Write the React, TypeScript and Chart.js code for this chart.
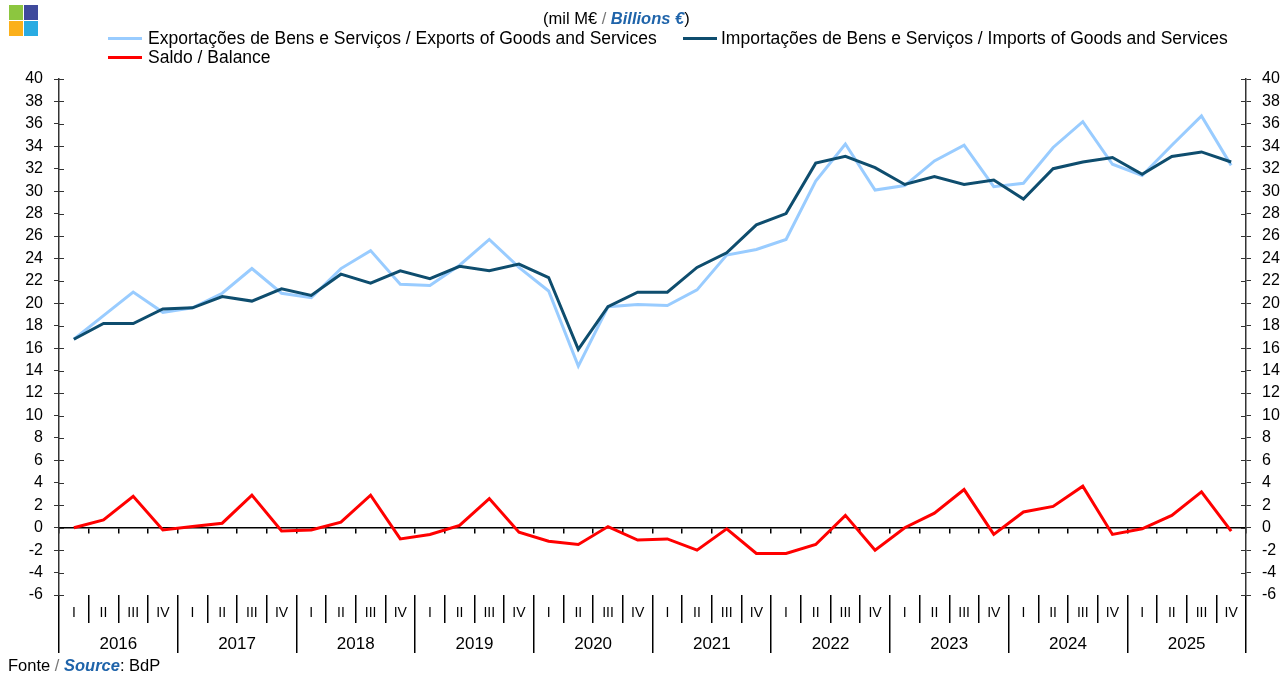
import React, { useEffect, useRef } from "react";
import { Chart, registerables } from "chart.js";

Chart.register(...registerables);

const years = ["2016", "2017", "2018", "2019", "2020", "2021", "2022", "2023", "2024", "2025"];
const quarters = ["I", "II", "III", "IV"];

const exportsData = [
  16.8, 18.9, 21.0, 19.2,
  19.6, 20.9, 23.1, 20.9,
  20.5, 23.1, 24.7, 21.7,
  21.6, 23.4, 25.7, 23.2,
  21.1, 14.4, 19.7, 19.9,
  19.8, 21.2, 24.3, 24.8,
  25.7, 30.9, 34.2, 30.1,
  30.5, 32.7, 34.1, 30.4,
  30.7, 33.9, 36.2, 32.4,
  31.4, 34.1, 36.7, 32.3,
];

const importsData = [
  16.8, 18.2, 18.2, 19.5,
  19.6, 20.6, 20.2, 21.3,
  20.7, 22.6, 21.8, 22.9,
  22.2, 23.3, 22.9, 23.5,
  22.3, 15.9, 19.7, 21.0,
  21.0, 23.2, 24.5, 27.0,
  28.0, 32.5, 33.1, 32.1,
  30.6, 31.3, 30.6, 31.0,
  29.3, 32.0, 32.6, 33.0,
  31.5, 33.1, 33.5, 32.6,
];

const balanceData = [
  0.0, 0.7, 2.8, -0.2,
  0.1, 0.4, 2.9, -0.3,
  -0.2, 0.5, 2.9, -1.0,
  -0.6, 0.2, 2.6, -0.4,
  -1.2, -1.5, 0.1, -1.1,
  -1.0, -2.0, -0.1, -2.3,
  -2.3, -1.5, 1.1, -2.0,
  0.0, 1.3, 3.4, -0.6,
  1.4, 1.9, 3.7, -0.6,
  -0.1, 1.1, 3.2, -0.3,
];

const yMin = -6;
const yMax = 40;
const yStep = 2;

const FONT = '"Liberation Sans", Arial, sans-serif';
const C_EXP = "#99CCFF";
const C_IMP = "#0E4D6E";
const C_BAL = "#FF0000";
const C_BLUE = "#1F64AA";
const C_AXIS = "#333333";

const quarterLabels = years.flatMap(() => quarters);

const innerTicks = {
  id: "innerTicks",
  afterDraw(chart: any) {
    const ctx = chart.ctx;
    ["y", "y2"].forEach((id) => {
      const s = chart.scales[id];
      if (!s) return;
      const x = id === "y" ? chart.chartArea.left : chart.chartArea.right;
      const dir = id === "y" ? 1 : -1;
      ctx.save();
      ctx.strokeStyle = C_AXIS;
      ctx.lineWidth = 1;
      s.ticks.forEach((_t: any, i: number) => {
        const py = Math.round(s.getPixelForTick(i)) + 0.5;
        ctx.beginPath();
        ctx.moveTo(x, py);
        ctx.lineTo(x + dir * 5, py);
        ctx.stroke();
      });
      ctx.restore();
    });
  },
};

export default function App() {
  const canvasRef = useRef<HTMLCanvasElement | null>(null);

  useEffect(() => {
    if (!canvasRef.current) return;
    const yCommon = {
      min: yMin,
      max: yMax,
      ticks: {
        stepSize: yStep,
        color: "#000",
        font: { family: FONT, size: 16 },
        padding: 11,
      },
      grid: {
        drawOnChartArea: false,
        drawTicks: true,
        tickLength: 5,
        color: C_AXIS,
        lineWidth: 1,
      },
      border: { display: true, color: C_AXIS, width: 1.5 },
    };
    const chart = new Chart(canvasRef.current, {
      type: "line",
      data: {
        labels: quarterLabels,
        datasets: [
          {
            label: "Exportações de Bens e Serviços / Exports of Goods and Services",
            data: exportsData,
            borderColor: C_EXP,
            backgroundColor: C_EXP,
            borderWidth: 3,
            pointRadius: 0,
            tension: 0,
            order: 2,
            yAxisID: "y",
            xAxisID: "x",
          },
          {
            label: "Importações de Bens e Serviços / Imports of Goods and Services",
            data: importsData,
            borderColor: C_IMP,
            backgroundColor: C_IMP,
            borderWidth: 3,
            pointRadius: 0,
            tension: 0,
            order: 1,
            yAxisID: "y",
            xAxisID: "x",
          },
          {
            label: "Saldo / Balance",
            data: balanceData,
            borderColor: C_BAL,
            backgroundColor: C_BAL,
            borderWidth: 3,
            pointRadius: 0,
            tension: 0,
            order: 0,
            yAxisID: "y",
            xAxisID: "x",
          },
        ],
      },
      options: {
        responsive: false,
        animation: false,
        events: [],
        layout: { padding: { top: 79, left: 0, right: 0, bottom: 0 } },
        plugins: {
          legend: { display: false },
          title: { display: false },
          tooltip: { enabled: false },
        },
        scales: {
          x: {
            axis: "x",
            type: "category",
            position: "bottom",
            weight: 0,
            offset: true,
            grid: {
              offset: true,
              drawOnChartArea: false,
              drawTicks: true,
              tickLength: 28,
              color: "#000",
              lineWidth: 1.5,
            },
            border: { display: false },
            ticks: {
              autoSkip: false,
              maxRotation: 0,
              minRotation: 0,
              color: "#000",
              font: { family: FONT, size: 14 },
              padding: -18,
            },
            afterFit: (s: any) => {
              s.height = 28;
            },
          },
          x2: {
            axis: "x",
            type: "category",
            position: "bottom",
            weight: 1,
            labels: years,
            offset: true,
            grid: {
              offset: true,
              drawOnChartArea: false,
              drawTicks: true,
              tickLength: 30,
              color: "#000",
              lineWidth: 1.5,
            },
            border: { display: false },
            ticks: {
              autoSkip: false,
              maxRotation: 0,
              minRotation: 0,
              color: "#000",
              font: { family: FONT, size: 17 },
              padding: -19.2,
            },
            afterFit: (s: any) => {
              s.height = 54;
            },
          },
          x3: {
            axis: "x",
            type: "category",
            position: { y: 0 },
            labels: quarterLabels,
            offset: true,
            grid: {
              offset: true,
              drawOnChartArea: false,
              drawTicks: true,
              tickLength: 5,
              color: "#000",
              lineWidth: 1.5,
            },
            border: { display: true, color: "#000", width: 1.5 },
            ticks: { display: false },
          },
          y: {
            ...yCommon,
            axis: "y",
            type: "linear",
            position: "left",
            afterFit: (s: any) => {
              s.width = 59;
            },
          },
          y2: {
            ...yCommon,
            axis: "y",
            type: "linear",
            position: "right",
            afterFit: (s: any) => {
              s.width = 41;
            },
          },
        },
      } as any,
      plugins: [innerTicks],
    });
    return () => chart.destroy();
  }, []);

  const txt: React.CSSProperties = {
    position: "absolute",
    fontFamily: FONT,
    fontSize: 17.5,
    lineHeight: "18px",
    color: "#000",
    whiteSpace: "nowrap",
  };
  const sw = (color: string, left: number, top: number): React.CSSProperties => ({
    position: "absolute",
    left,
    top,
    width: 34,
    height: 3,
    background: color,
  });
  const sq = (color: string, left: number, top: number): React.CSSProperties => ({
    position: "absolute",
    left,
    top,
    width: 14,
    height: 15,
    background: color,
  });

  return (
    <div
      style={{
        position: "fixed",
        left: 0,
        top: 0,
        width: 1287,
        height: 677,
        background: "#fff",
        overflow: "hidden",
      }}
    >
      <canvas
        ref={canvasRef}
        width={1287}
        height={677}
        style={{ position: "absolute", left: 0, top: 0, display: "block" }}
      />
      <div style={sq("#8CC63F", 9, 5)} />
      <div style={sq("#3F4A9C", 24, 5)} />
      <div style={sq("#FBB01B", 9, 21)} />
      <div style={sq("#29ABE2", 24, 21)} />

      <div style={{ ...txt, fontSize: 16.5, left: 543, top: 9 }}>
        (mil M€ <span style={{ color: "#777" }}>/</span>{" "}
        <span style={{ color: C_BLUE, fontWeight: "bold", fontStyle: "italic" }}>Billions €</span>)
      </div>

      <div style={sw(C_EXP, 108, 37)} />
      <div style={{ ...txt, left: 148, top: 29 }}>
        Exportações de Bens e Serviços / Exports of Goods and Services
      </div>
      <div style={sw(C_IMP, 683, 37)} />
      <div style={{ ...txt, left: 721, top: 29 }}>
        Importações de Bens e Serviços / Imports of Goods and Services
      </div>
      <div style={sw(C_BAL, 108, 56)} />
      <div style={{ ...txt, left: 148, top: 48 }}>Saldo / Balance</div>

      <div style={{ ...txt, fontSize: 16.5, left: 8, top: 656 }}>
        Fonte <span style={{ color: "#777" }}>/</span>{" "}
        <span style={{ color: C_BLUE, fontWeight: "bold", fontStyle: "italic" }}>Source</span>: BdP
      </div>
    </div>
  );
}
